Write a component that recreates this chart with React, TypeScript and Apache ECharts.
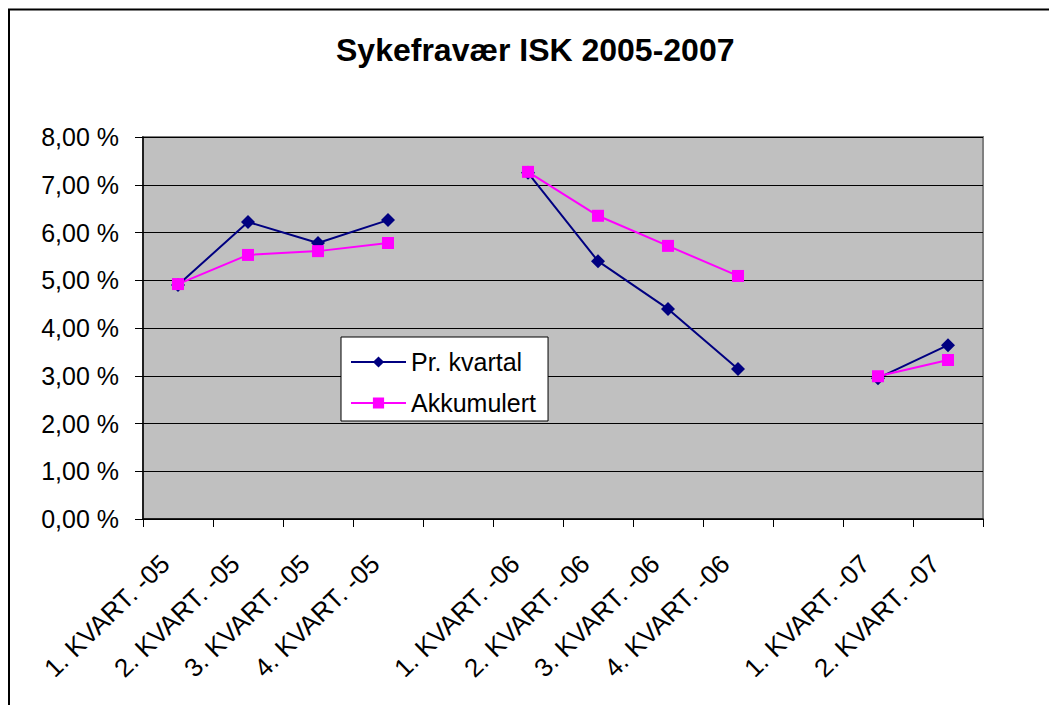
import React, { useEffect, useRef } from "react";
import * as echarts from "echarts";

const categories = [
  "1. KVART. -05", "2. KVART. -05", "3. KVART. -05", "4. KVART. -05", "",
  "1. KVART. -06", "2. KVART. -06", "3. KVART. -06", "4. KVART. -06", "",
  "1. KVART. -07", "2. KVART. -07",
];
const prKvartal = [4.9, 6.22, 5.78, 6.26, null, 7.25, 5.4, 4.4, 3.14, null, 2.95, 3.64];
const akkumulert = [4.92, 5.53, 5.61, 5.78, null, 7.27, 6.35, 5.72, 5.09, null, 2.99, 3.33];
const seriesNames = ["Pr. kvartal", "Akkumulert"];
const titleText = "Sykefravær ISK 2005-2007";

const FONT = "Arial, 'Liberation Sans', sans-serif";

export default function App() {
  const ref = useRef<HTMLDivElement>(null);
  useEffect(() => {
    if (!ref.current) return;
    const chart = echarts.init(ref.current, null, { renderer: "svg" });
    chart.setOption({
      animation: false,
      backgroundColor: "#ffffff",
      title: {
        text: titleText,
        left: 336,
        top: 34,
        padding: 0,
        textStyle: { fontFamily: FONT, fontSize: 32, fontWeight: "bold", color: "#000" },
      },
      graphic: [
        {
          type: "polyline",
          shape: { points: [[9, 720], [9, 9.5], [1060, 9.5]] },
          style: { stroke: "#000", lineWidth: 2, fill: "none" },
          z: 100,
        },
      ],
      legend: {
        orient: "vertical",
        left: 341,
        top: 337,
        padding: [12, 12, 5, 9],
        itemGap: 15,
        itemWidth: 55,
        itemHeight: 14,
        backgroundColor: "#ffffff",
        borderColor: "#000",
        borderWidth: 1,
        textStyle: { fontFamily: FONT, fontSize: 25, color: "#000", lineHeight: 26 },
        data: seriesNames,
      },
      grid: {
        left: 143,
        top: 137,
        right: 66,
        bottom: 186,
        show: true,
        backgroundColor: "#c0c0c0",
        borderColor: "#808080",
        borderWidth: 2,
      },
      xAxis: {
        type: "category",
        data: categories,
        boundaryGap: true,
        axisLine: { lineStyle: { color: "#000", width: 1.5 } },
        axisTick: { show: true, length: 8, inside: false, alignWithLabel: false, lineStyle: { color: "#000" } },
        axisLabel: {
          rotate: 44,
          interval: 0,
          margin: 28,
          padding: [0, 18, 0, 0],
          fontFamily: FONT,
          fontSize: 26,
          color: "#000",
        },
        splitLine: { show: false },
      },
      yAxis: {
        type: "value",
        min: 0,
        max: 8,
        interval: 1,
        axisLine: { show: true, lineStyle: { color: "#000", width: 1.5 } },
        axisTick: { show: true, length: 8, lineStyle: { color: "#000" } },
        axisLabel: {
          margin: 24,
          fontFamily: FONT,
          fontSize: 25,
          color: "#000",
          formatter: (v: number) => v.toFixed(2).replace(".", ",") + " %",
        },
        splitLine: { show: true, lineStyle: { color: "#000", width: 1.2 } },
      },
      series: [
        {
          name: seriesNames[0],
          type: "line",
          data: prKvartal,
          connectNulls: false,
          symbol: "diamond",
          symbolSize: 14,
          itemStyle: { color: "#000080" },
          lineStyle: { color: "#000080", width: 2 },
        },
        {
          name: seriesNames[1],
          type: "line",
          data: akkumulert,
          connectNulls: false,
          symbol: "rect",
          symbolSize: 12,
          itemStyle: { color: "#ff00ff" },
          lineStyle: { color: "#ff00ff", width: 2 },
        },
      ],
    });
    return () => chart.dispose();
  }, []);
  return (
    <div
      ref={ref}
      style={{ position: "fixed", left: 0, top: 0, width: 1049, height: 705 }}
    />
  );
}
